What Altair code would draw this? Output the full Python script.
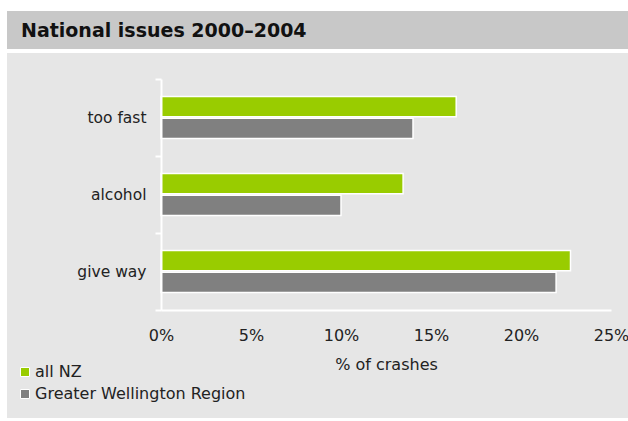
import altair as alt
import pandas as pd

categories = ["too fast", "alcohol", "give way"]
series = ["all NZ", "Greater Wellington Region"]
all_nz = [16.4, 13.45, 22.75]
wellington = [14.0, 10.0, 21.95]
colors = ["#99cc00", "#808080"]
tick_values = [0, 5, 10, 15, 20, 25]
title_text = "National issues 2000\u20132004"

rows = []
for c, a, w in zip(categories, all_nz, wellington):
    rows.append({"issue": c, "series": series[0], "pct": a})
    rows.append({"issue": c, "series": series[1], "pct": w})
df = pd.DataFrame(rows)

FONT = "DejaVu Sans"
FS = 16
one = pd.DataFrame({"k": [0]})

title_band = alt.Chart(one).mark_rect(color="#c8c8c8").encode(
    x=alt.value(-154), x2=alt.value(467), y=alt.value(-68), y2=alt.value(-30)
)
panel = alt.Chart(one).mark_rect(color="#e6e6e6").encode(
    x=alt.value(-154), x2=alt.value(467), y=alt.value(-26), y2=alt.value(339)
)
title = alt.Chart(one).mark_text(
    align="left", baseline="alphabetic", font=FONT, fontSize=19,
    fontWeight="bold", color="#111111"
).encode(x=alt.value(-140), y=alt.value(-42), text=alt.value(title_text))

bars = alt.Chart(df).mark_bar(stroke="white", strokeWidth=1.5).encode(
    x=alt.X("pct:Q",
            scale=alt.Scale(domain=[0, 25], nice=False),
            axis=alt.Axis(values=tick_values, labelExpr="datum.value + '%'",
                          title="% of crashes", ticks=False, grid=False, zindex=1,
                          labelFlush=False, labelPadding=17, titlePadding=13)),
    y=alt.Y("issue:N", sort=categories,
            scale=alt.Scale(paddingInner=0, paddingOuter=0),
            axis=alt.Axis(title=None, tickBand="extent", ticks=True, tickSize=6,
                          labelPadding=9, labelFontSize=15.5, zindex=1)),
    yOffset=alt.YOffset("series:N", sort=series,
                        scale=alt.Scale(paddingInner=0.08, paddingOuter=0.81)),
    color=alt.Color("series:N", sort=series,
                    scale=alt.Scale(domain=series, range=colors),
                    legend=alt.Legend(title=None, orient="none", legendX=-144, legendY=285,
                                      symbolType="square", symbolSize=81,
                                      symbolStrokeColor="white", symbolStrokeWidth=1,
                                      labelFontSize=FS, labelFont=FONT, labelColor="#222222",
                                      labelLimit=0, rowPadding=6, labelOffset=2)),
)

chart = alt.layer(title_band, panel, title, bars).properties(
    width=450, height=231,
    autosize=alt.AutoSizeParams(type="none"),
    padding={"left": 161, "top": 79, "right": 17, "bottom": 111},
    background="white",
).configure_view(stroke=None).configure_axis(
    domainColor="white", domainWidth=2, tickColor="white", tickWidth=2,
    labelFont=FONT, labelFontSize=FS, labelColor="#222222",
    titleFont=FONT, titleFontSize=FS, titleFontWeight="normal", titleColor="#222222",
)

chart.save("out.html", embed_options={"renderer": "svg", "actions": False})
